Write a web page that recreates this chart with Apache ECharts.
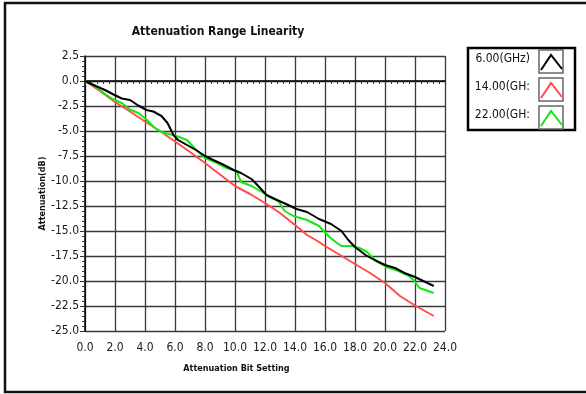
<!DOCTYPE html>
<html>
<head>
<meta charset="utf-8">
<script src="https://cdn.jsdelivr.net/npm/echarts@6/dist/echarts.min.js"></script>
<style>
  html, body { margin: 0; padding: 0; background: #fff; }
  #chart { width: 586px; height: 394px; }
</style>
</head>
<body>
<div id="chart"></div>
<script>
  // values, [bit setting, attenuation dB]
  var ghz6 = [
    [0, 0], [0.5, -0.35], [1.33, -0.9], [1.9, -1.35], [2.45, -1.75], [3.0, -1.9], [3.55, -2.45],
    [4.1, -2.9], [4.55, -3.05], [5.1, -3.5], [5.5, -4.2], [5.9, -5.4], [6.2, -5.9], [6.8, -6.4],
    [7.4, -6.9], [8.0, -7.5], [8.55, -7.9], [9.2, -8.35], [9.9, -8.9], [10.4, -9.2], [11.1, -9.8],
    [11.55, -10.5], [12.1, -11.4], [12.8, -11.9], [13.4, -12.3], [14.1, -12.8], [14.8, -13.1],
    [15.6, -13.8], [16.4, -14.3], [17.1, -15.0], [17.55, -15.9], [18.0, -16.6], [18.7, -17.4],
    [19.3, -17.9], [20.0, -18.4], [20.67, -18.7], [21.3, -19.2], [22.0, -19.6], [22.55, -20.0],
    [23.25, -20.5]
  ]
  var ghz14 = [
    [0, 0], [1, -1.0], [2, -2.1], [3, -3.05], [4, -4.05], [5, -5.0], [6, -6.05], [7, -7.1],
    [8, -8.2], [9, -9.35], [10, -10.5], [11, -11.3], [12, -12.2], [13, -13.2], [14, -14.4],
    [14.8, -15.4], [15.5, -16.0], [16, -16.5], [17, -17.4], [18, -18.3], [19, -19.2], [20, -20.2],
    [21, -21.5], [22, -22.45], [23.25, -23.5]
  ]
  var ghz22 = [
    [0, 0], [0.6, -0.45], [1.33, -1.3], [1.9, -1.85], [2.45, -2.2], [3.0, -2.85], [3.55, -3.2],
    [4.1, -3.85], [4.6, -4.65], [5.1, -5.1], [5.6, -5.3], [6.2, -5.55], [6.8, -5.9], [7.35, -6.8],
    [8.0, -7.7], [8.8, -8.2], [9.4, -8.7], [10.1, -9.0], [10.4, -10.1], [11.1, -10.5], [11.8, -11.1],
    [12.3, -11.6], [12.9, -12.0], [13.3, -13.0], [13.9, -13.5], [14.8, -13.9], [15.6, -14.5],
    [16.3, -15.6], [16.8, -16.2], [17.1, -16.5], [17.8, -16.5], [18.3, -16.7], [18.8, -17.1],
    [19.4, -18.0], [20.1, -18.6], [20.9, -19.0], [21.6, -19.5], [21.9, -19.9], [22.3, -20.7],
    [23.25, -21.2]
  ]
  var seriesNames = ['6.00(GHz)', '14.00(GH:', '22.00(GH:']
  var seriesColors = ['#000000', '#ff4d4d', '#12e812']

  var narrow = "'Liberation Sans Narrow', 'DejaVu Sans Condensed', 'Liberation Sans', sans-serif"

  var chart = echarts.init(document.getElementById('chart'))

  // legend box drawn by hand (label + boxed chevron per row)
  var legendItems = []
  var rowTop = [50, 78, 106]
  seriesNames.forEach(function (name, i) {
    var t = rowTop[i]
    legendItems.push({
      type: 'text', right: 56, top: t + 3,
      style: { text: name, fill: '#111', font: '12px ' + narrow, textAlign: 'right' }
    })
    legendItems.push({
      type: 'rect', shape: { x: 539, y: t, width: 24, height: 23 },
      style: { fill: '#fff', stroke: '#666', lineWidth: 1.5 }
    })
    legendItems.push({
      type: 'polyline', shape: { points: [[541, t + 20], [551, t + 5], [562, t + 19]] },
      style: { stroke: seriesColors[i], lineWidth: 2, fill: null }
    })
  })

  var option = {
    animation: false,
    backgroundColor: '#fff',
    title: {
      text: 'Attenuation Range Linearity',
      left: 213, top: 21, textAlign: 'center',
      textStyle: { fontSize: 12, fontWeight: 'bold', color: '#111', fontFamily: narrow }
    },
    grid: { left: 85, right: 141, top: 56, bottom: 63 },
    xAxis: {
      type: 'value', min: 0, max: 24, interval: 2,
      name: 'Attenuation Bit Setting', nameLocation: 'middle', nameGap: 33, nameMoveOverlap: false,
      nameTextStyle: { fontSize: 9, fontWeight: 'bold', color: '#111', fontFamily: narrow, padding: [0, 57, 0, 0] },
      axisLine: { lineStyle: { color: '#000', width: 1.5 } },
      axisTick: { show: true, length: 4, lineStyle: { color: '#333' } },
      minorTick: { show: true, splitNumber: 5, length: 3, lineStyle: { color: '#333' } },
      axisLabel: {
        margin: 11, fontSize: 12, color: '#1a1a1a', fontFamily: narrow,
        formatter: function (v) { return v.toFixed(1) }
      },
      splitLine: { show: true, lineStyle: { color: '#3a3a3a', width: 1.3 } }
    },
    yAxis: {
      type: 'value', min: -25, max: 2.5, interval: 2.5,
      name: 'Attenuation(dB)', nameLocation: 'middle', nameGap: 38, nameMoveOverlap: false,
      nameTextStyle: { fontSize: 9, fontWeight: 'bold', color: '#111', fontFamily: narrow },
      axisLine: { show: true, lineStyle: { color: '#000', width: 1.5 } },
      axisTick: { show: true, length: 5, lineStyle: { color: '#333' } },
      minorTick: { show: true, splitNumber: 5, length: 3, lineStyle: { color: '#333' } },
      axisLabel: {
        margin: 6, fontSize: 12, color: '#1a1a1a', fontFamily: narrow,
        formatter: function (v) { return v.toFixed(1) }
      },
      splitLine: { show: true, lineStyle: { color: '#3a3a3a', width: 1.3 } }
    },
    series: [
      { name: seriesNames[0], type: 'line', data: ghz6, symbol: 'none', lineStyle: { color: seriesColors[0], width: 2 }, z: 4 },
      { name: seriesNames[1], type: 'line', data: ghz14, symbol: 'none', lineStyle: { color: seriesColors[1], width: 2 }, z: 2 },
      { name: seriesNames[2], type: 'line', data: ghz22, symbol: 'none', lineStyle: { color: seriesColors[2], width: 2 }, z: 3 }
    ],
    graphic: [
      {
        type: 'rect', shape: { x: 5, y: 3, width: 620, height: 389 },
        style: { fill: null, stroke: '#111', lineWidth: 2.5 }, silent: true
      },
      {
        type: 'rect', shape: { x: 468, y: 48, width: 107, height: 82 },
        style: { fill: '#fff', stroke: '#000', lineWidth: 2.5 }
      }
    ].concat(legendItems)
  }
  chart.setOption(option)
  window.onresize = chart.resize
</script>
</body>
</html>
